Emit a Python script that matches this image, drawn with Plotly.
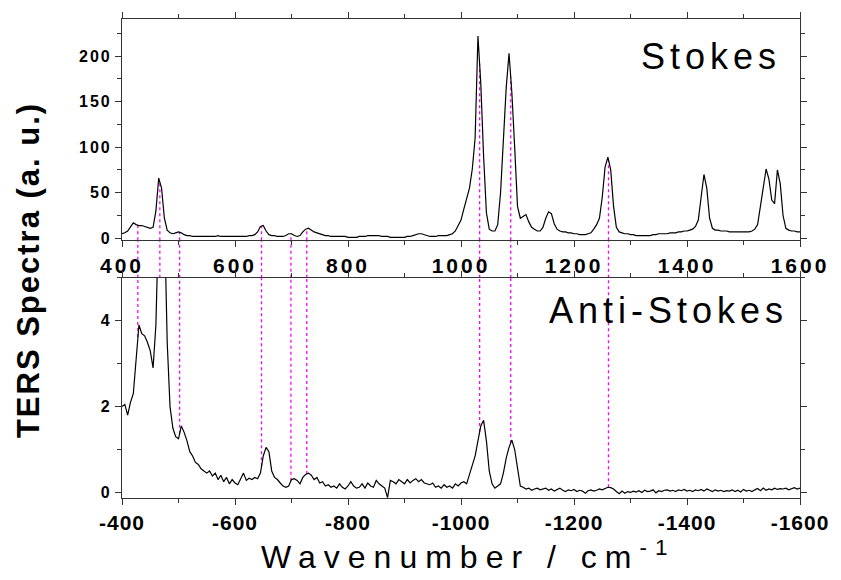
import numpy as np
import plotly.graph_objects as go

# ---------------- data ----------------
wavenumber = list(range(400, 1605, 5))

stokes = [
    5, 6, 8, 13, 17, 15, 14, 14, 13, 12, 11, 12, 30, 66, 55, 22, 9, 6, 5, 6,      # 400-495
    7, 6, 4, 3, 3, 2, 2, 2, 2, 2, 2, 2, 2, 2, 3, 2, 2, 2, 2, 2,                    # 500-595
    2, 2, 2, 2, 2, 3, 3, 4, 7, 13, 14, 8, 4, 3, 3, 2, 2, 2, 3, 5,                  # 600-695
    5, 3, 2, 3, 7, 10, 11, 9, 7, 6, 5, 4, 3, 3, 2, 2, 2, 2, 2, 2,                  # 700-795
    1, 1, 1, 1, 2, 2, 2, 3, 3, 3, 3, 3, 2, 2, 2, 1, 1, 1, 1, 1,                    # 800-895
    1, 2, 2, 3, 4, 5, 5, 4, 3, 2, 2, 2, 3, 3, 3, 3, 4, 5, 8, 14,                   # 900-995
    20, 32, 45, 55, 76, 110, 222, 170, 90, 28, 10, 8, 8, 15, 50, 110, 165, 203, 160, 100,  # 1000-1095
    35, 22, 24, 26, 18, 12, 10, 8, 8, 12, 22, 29, 27, 16, 10, 8, 7, 7, 6, 6,       # 1100-1195
    5, 5, 4, 4, 4, 5, 6, 10, 15, 22, 45, 78, 89, 75, 35, 12, 7, 6, 5, 5,           # 1200-1295
    4, 4, 3, 3, 3, 3, 3, 3, 4, 4, 5, 5, 5, 5, 6, 6, 6, 7, 7, 8,                    # 1300-1395
    8, 9, 10, 13, 20, 45, 70, 55, 22, 11, 9, 9, 8, 8, 8, 7, 7, 7, 7, 7,            # 1400-1495
    7, 7, 7, 8, 10, 15, 35, 60, 76, 65, 42, 38, 75, 60, 25, 11, 9, 8, 8, 7,        # 1500-1595
    7,                                                                               # 1600
]

anti_stokes = [
    2.0, 2.05, 1.8, 2.1, 2.3, 3.2, 3.9, 3.7, 3.65, 3.5, 3.3, 2.9, 3.9, 6.5, 8.0, 6.5, 3.5, 2.0, 1.5, 1.3,      # 400-495
    1.25, 1.55, 1.4, 1.2, 0.95, 0.85, 0.7, 0.65, 0.55, 0.5, 0.45, 0.5, 0.38, 0.45, 0.3, 0.4, 0.25, 0.35, 0.2, 0.3,  # 500-595
    0.22, 0.18, 0.3, 0.45, 0.28, 0.33, 0.3, 0.35, 0.32, 0.45, 0.85, 1.05, 0.95, 0.5, 0.35, 0.3, 0.22, 0.15, 0.12, 0.15,  # 600-695
    0.3, 0.32, 0.28, 0.2, 0.35, 0.42, 0.45, 0.4, 0.3, 0.35, 0.22, 0.25, 0.15, 0.18, 0.12, 0.15, 0.1, 0.2, 0.12, 0.08,  # 700-795
    0.15, 0.25, 0.15, 0.1, 0.12, 0.2, 0.1, 0.22, 0.15, 0.12, 0.28, 0.2, 0.15, 0.1, -0.12, 0.28, 0.25, 0.2, 0.3, 0.25,  # 800-895
    0.2, 0.3, 0.22, 0.28, 0.32, 0.25, 0.3, 0.22, 0.2, 0.18, 0.22, 0.12, 0.15, 0.1, 0.18, 0.12, 0.15, 0.1, 0.2, 0.15,  # 900-995
    0.22, 0.25, 0.2, 0.42, 0.6, 0.85, 1.2, 1.55, 1.68, 1.2, 0.5, 0.2, 0.1, 0.15, 0.2, 0.45, 0.8, 1.05, 1.22, 1.0,  # 1000-1095
    0.6, 0.15, 0.12, 0.08, 0.1, 0.05, 0.08, 0.1, 0.06, 0.08, 0.1, 0.05, 0.08, 0.03, 0.07, 0.1, 0.05, 0.02, 0.06, 0.04,  # 1100-1195
    0.07, 0.02, 0.05, 0.03, -0.02, 0.04, 0.06, 0.03, 0.05, 0.08, 0.06, 0.1, 0.12, 0.11, 0.08, 0.02, -0.03, 0.03, -0.02, 0.02,  # 1200-1295
    0.0, 0.03, 0.01, 0.04, 0.0, 0.05, 0.02, 0.03, 0.06, -0.01, 0.04, 0.02, 0.05, 0.06, 0.03, 0.05, 0.02, 0.06, 0.04, 0.07,  # 1300-1395
    0.03, 0.05, 0.02, 0.06, 0.04, 0.07, 0.03, 0.08, 0.05, 0.02, 0.06, 0.03, 0.05, 0.02, 0.04, 0.03, 0.06, 0.02, 0.05, 0.01,  # 1400-1495
    0.07, 0.03, 0.05, 0.02, 0.06, 0.09, 0.04, 0.1, 0.05, 0.08, 0.06, 0.1, 0.07, 0.09, 0.08, 0.1, 0.06, 0.09, 0.11, 0.08,  # 1500-1595
    0.1,                                                                             # 1600
]

# positions of the dotted guide lines (cm-1)
marker_positions = [428, 467, 502, 647, 699, 727, 1033, 1088, 1261]

stokes_ticks = [400, 600, 800, 1000, 1200, 1400, 1600]
anti_ticks = [-400, -600, -800, -1000, -1200, -1400, -1600]
anti_tick_text = ["-400", "-600", "-800", "-1000", "-1200", "-1400", "-1600"]
stokes_yticks = [0, 50, 100, 150, 200]
anti_yticks = [0, 2, 4]

# ---------------- figure ----------------
W, H = 841, 580
top_dom = [0.538, 1.0]
bot_dom = [0.0, 0.4596]
top_yrange = [-2.2, 240.6]
bot_yrange = [-0.13, 5.0]

fig = go.Figure()

fig.add_trace(go.Scatter(x=wavenumber, y=stokes, mode="lines",
                         line=dict(color="black", width=1.2),
                         xaxis="x", yaxis="y", showlegend=False))
anti_x = [-w for w in wavenumber]
fig.add_trace(go.Scatter(x=anti_x, y=anti_stokes, mode="lines",
                         line=dict(color="black", width=1.2),
                         xaxis="x2", yaxis="y2", showlegend=False))

guide = dict(color="#ff00ff", width=1.3, dash="dot")
for p in marker_positions:
    ys = float(np.interp(p, wavenumber, stokes))
    ya = float(np.interp(p, wavenumber, anti_stokes))
    ya = min(ya, bot_yrange[1])
    fig.add_shape(type="line", xref="x", yref="y", x0=p, x1=p,
                  y0=top_yrange[0], y1=ys, line=guide, layer="below")
    fig.add_shape(type="line", xref="x", yref="paper", x0=p, x1=p,
                  y0=bot_dom[1], y1=top_dom[0], line=guide, layer="below")
    fig.add_shape(type="line", xref="x2", yref="y2", x0=-p, x1=-p,
                  y0=ya, y1=bot_yrange[1], line=guide, layer="below")


def bold_spaced(s, sp):
    return '<span style="letter-spacing:%spx"><b>%s</b></span>' % (sp, s)


tickfont = dict(family="Liberation Sans, Arial, sans-serif", size=21, color="black")
ytickfont = dict(family="Liberation Sans, Arial, sans-serif", size=16, color="black")
axis_common = dict(showline=True, linecolor="#333333", linewidth=1.2, mirror="allticks",
                   ticks="outside", ticklen=6, tickwidth=1, tickcolor="#333333",
                   showgrid=False, zeroline=False)

fig.update_layout(
    width=W, height=H,
    margin=dict(l=122, r=35, t=15, b=82),
    paper_bgcolor="white", plot_bgcolor="white",
    xaxis=dict(domain=[0, 1], anchor="y", range=[400, 1600],
               tickmode="array", tickvals=stokes_ticks,
               ticktext=[bold_spaced(str(t), 3) for t in stokes_ticks],
               tickfont=tickfont,
               minor=dict(dtick=100, tick0=400, ticklen=4, ticks="outside", tickcolor="#333333"),
               **axis_common),
    yaxis=dict(domain=top_dom, anchor="x", range=top_yrange,
               tickmode="array", tickvals=stokes_yticks,
               ticktext=[bold_spaced(str(t), 2) for t in stokes_yticks],
               tickfont=ytickfont,
               minor=dict(dtick=25, tick0=0, ticklen=4, ticks="outside", tickcolor="#333333"),
               **axis_common),
    xaxis2=dict(domain=[0, 1], anchor="y2", range=[-400, -1600],
                tickmode="array", tickvals=anti_ticks,
                ticktext=[bold_spaced(t, 1) for t in anti_tick_text],
                tickfont=tickfont,
                minor=dict(dtick=100, tick0=-400, ticklen=4, ticks="outside", tickcolor="#333333"),
                **axis_common),
    yaxis2=dict(domain=bot_dom, anchor="x2", range=bot_yrange,
                tickmode="array", tickvals=anti_yticks,
                ticktext=[bold_spaced(str(t), 2) for t in anti_yticks],
                tickfont=ytickfont,
                minor=dict(dtick=1, tick0=0, ticklen=4, ticks="outside", tickcolor="#333333"),
                **axis_common),
)

label_font = dict(family="Liberation Sans, Arial, sans-serif", size=36, color="black")
fig.add_annotation(text='<span style="letter-spacing:5px">Stokes</span>',
                   xref="x domain", yref="y domain", x=0.975, y=0.93,
                   xanchor="right", yanchor="top", showarrow=False, font=label_font)
fig.add_annotation(text='<span style="letter-spacing:5px">Anti-Stokes</span>',
                   xref="x2 domain", yref="y2 domain", x=0.985, y=0.955,
                   xanchor="right", yanchor="top", showarrow=False, font=label_font)

fig.add_annotation(text='<span style="letter-spacing:2px"><b>TERS Spectra (a. u.)</b></span>',
                   textangle=-90,
                   xref="paper", yref="paper", x=-0.137, y=0.476,
                   xanchor="center", yanchor="middle", showarrow=False,
                   font=dict(family="Liberation Sans, Arial, sans-serif", size=31, color="black"))
fig.add_annotation(text='<span style="letter-spacing:8px">Wavenumber / cm<sup>-1</sup></span>',
                   xref="paper", yref="paper", x=0.51, y=-0.118,
                   xanchor="center", yanchor="middle", showarrow=False,
                   font=dict(family="Liberation Sans, Arial, sans-serif", size=32, color="black"))

fig.write_html("out.html")
